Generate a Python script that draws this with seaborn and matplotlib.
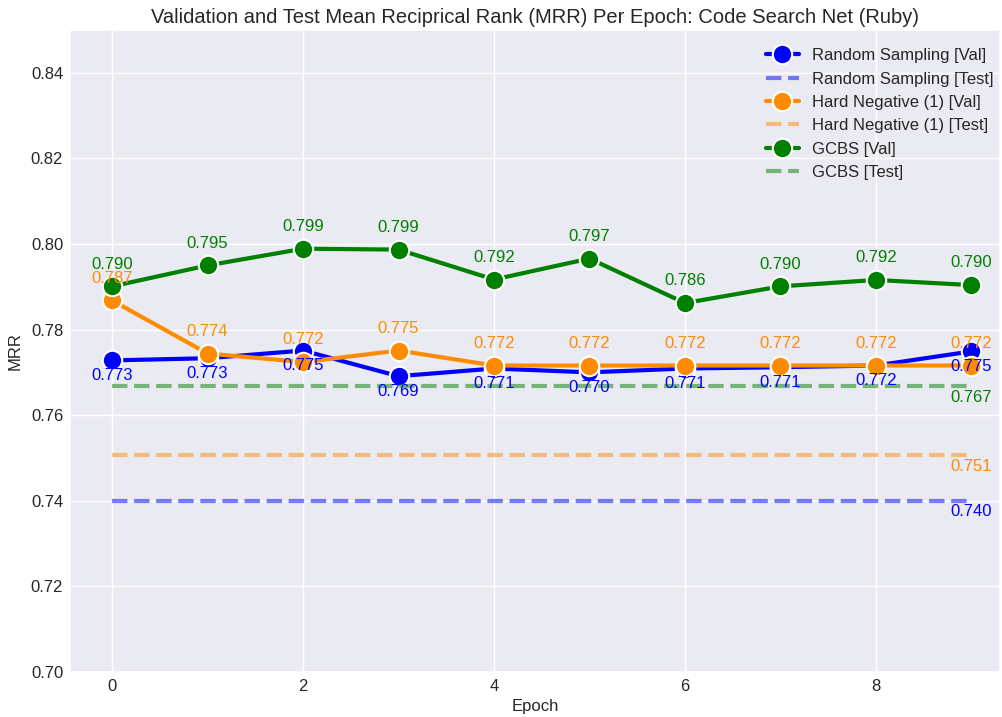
import matplotlib
matplotlib.use("Agg")
import matplotlib.pyplot as plt
import seaborn as sns
import pandas as pd

epochs = [0, 1, 2, 3, 4, 5, 6, 7, 8, 9]
rs_val = [0.7728, 0.7733, 0.7751, 0.7691, 0.7709, 0.7700, 0.7709, 0.7712, 0.7716, 0.7749]
hn_val = [0.7868, 0.7744, 0.7724, 0.7751, 0.7716, 0.7716, 0.7716, 0.7716, 0.7716, 0.7716]
gc_val = [0.7901, 0.7950, 0.7989, 0.7987, 0.7917, 0.7966, 0.7862, 0.7901, 0.7916, 0.7904]
rs_test = 0.740
hn_test = 0.7506
gc_test = 0.7667

names = ["Random Sampling", "Hard Negative (1)", "GCBS"]
colors = ["blue", "darkorange", "green"]

sns.set_theme(style="darkgrid")
plt.rcParams['font.family'] = ['Liberation Sans', 'DejaVu Sans']

fig, ax = plt.subplots(figsize=(10.02, 7.17), dpi=100)

vals = [rs_val, hn_val, gc_val]
tests = [rs_test, hn_test, gc_test]
for i, (name, col) in enumerate(zip(names, colors)):
    df = pd.DataFrame({"Epoch": epochs, "MRR": vals[i]})
    sns.lineplot(data=df, x="Epoch", y="MRR", ax=ax, color=col, lw=3,
                 marker="o", markersize=14, markeredgecolor="white",
                 markeredgewidth=1.5, label=f"{name} [Val]")
    dt = pd.DataFrame({"Epoch": [epochs[0], epochs[-1]], "MRR": [tests[i]] * 2})
    sns.lineplot(data=dt, x="Epoch", y="MRR", ax=ax, color=col, lw=3,
                 linestyle="--", alpha=0.5, label=f"{name} [Test]")
    for e, v in zip(epochs, vals[i]):
        if i == 0:
            ax.annotate(f"{v:.3f}", (e, v), xytext=(0, -11), textcoords="offset points",
                        ha="center", va="center", color=col, fontsize=12)
        else:
            ax.annotate(f"{v:.3f}", (e, v), xytext=(0, 16), textcoords="offset points",
                        ha="center", va="center", color=col, fontsize=12)
    ax.annotate(f"{tests[i]:.3f}", (epochs[-1], tests[i]), xytext=(0, -8),
                textcoords="offset points", ha="center", va="center",
                color=col, fontsize=12)

ax.set_ylim(0.70, 0.85)
ax.set_xlim(-0.44, 9.3)
ax.set_xticks([0, 2, 4, 6, 8])
ax.set_yticks([0.70, 0.72, 0.74, 0.76, 0.78, 0.80, 0.82, 0.84])
ax.set_yticklabels([f"{t:.2f}" for t in [0.70, 0.72, 0.74, 0.76, 0.78, 0.80, 0.82, 0.84]])
ax.tick_params(labelsize=12, pad=5, length=0)
ax.set_xlabel("Epoch", fontsize=12, labelpad=4)
ax.set_ylabel("MRR", fontsize=12, labelpad=6)
ax.set_title("Validation and Test Mean Reciprical Rank (MRR) Per Epoch: Code Search Net (Ruby)",
             fontsize=14.5, pad=5)
ax.legend(loc="upper right", frameon=False, fontsize=12, borderaxespad=0.3,
          bbox_to_anchor=(1.006, 0.99))

fig.subplots_adjust(left=0.07, right=0.998, top=0.958, bottom=0.063)
fig.savefig("out.png", dpi=100)
